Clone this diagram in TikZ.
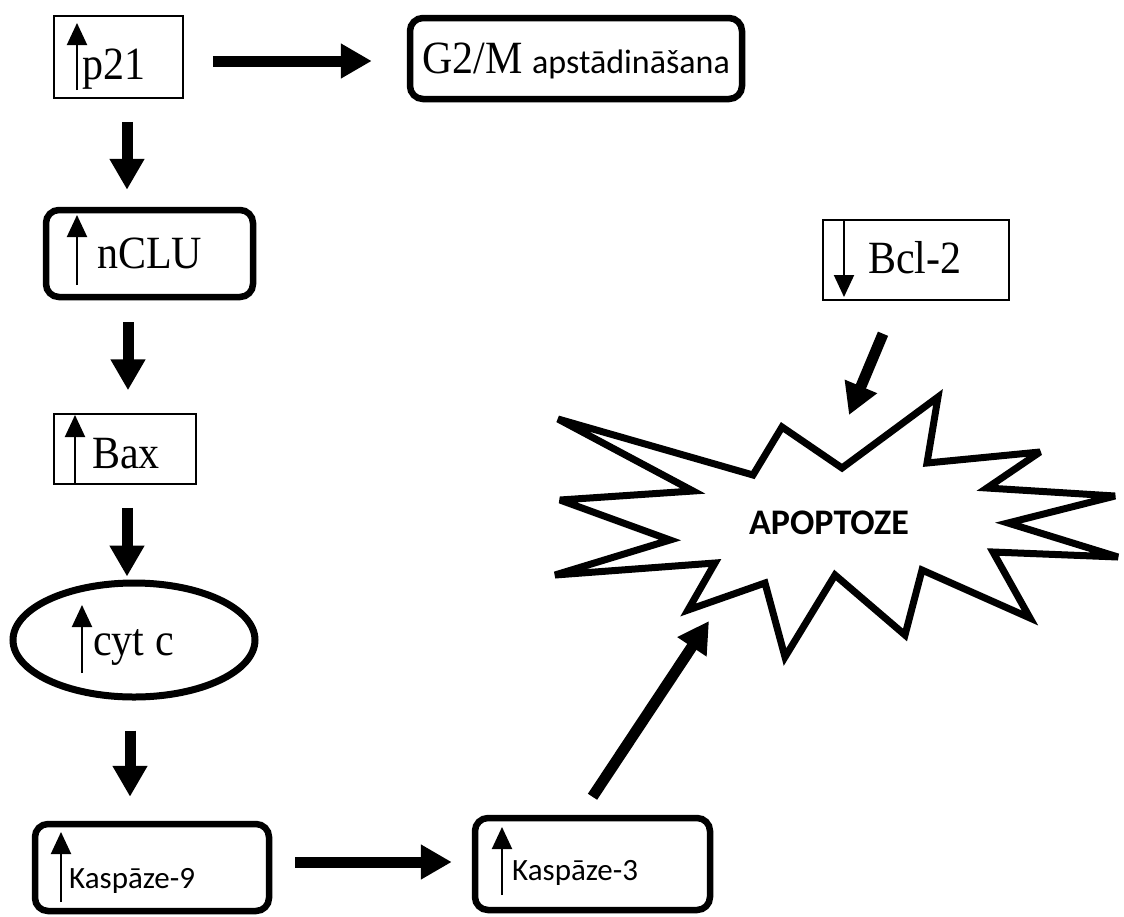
\documentclass[tikz,border=0pt]{standalone}
\usepackage{fontspec}
\usepackage{graphicx}
\setmainfont{Liberation Serif}
\newfontfamily\calib{Carlito}
\usetikzlibrary{arrows.meta,shapes.geometric}
\newcommand\tallt[1]{\scalebox{1}[1.1]{#1}}
\begin{document}
\begin{tikzpicture}[x=1pt,y=-1pt,
  tbox/.style={draw=black,line width=1.5pt,inner sep=0pt,rectangle},
  rbox/.style={draw=black,line width=6.5pt,rounded corners=13pt,inner sep=0pt,rectangle},
  ebox/.style={draw=black,line width=7pt,inner sep=0pt,ellipse},
  big/.style={line width=11pt,-{Triangle[length=31pt,width=33pt]}},
  small/.style={line width=2pt,-{Triangle[length=22pt,width=20pt]}},
  serif/.style={inner sep=0pt,anchor=base west,font=\fontsize{42}{42}\selectfont},
  sans/.style={inner sep=0pt,anchor=base west,font=\calib\fontsize{31}{31}\selectfont}]
\useasboundingbox (0,0) rectangle (1124,916);

% boxes
\node[tbox,minimum width=129pt,minimum height=82pt] (p21) at (118.5,57) {};
\node[rbox,minimum width=332pt,minimum height=81pt] (g2m) at (576,58.5) {};
\node[rbox,minimum width=207pt,minimum height=87pt] (nclu) at (149.5,253.5) {};
\node[tbox,minimum width=142pt,minimum height=70pt] (bax) at (125,449) {};
\node[ebox,minimum width=242pt,minimum height=114pt] (cytc) at (134,640) {};
\node[rbox,minimum width=234pt,minimum height=87pt] (k9) at (152,867.5) {};
\node[rbox,minimum width=235pt,minimum height=92pt] (k3) at (592.5,864) {};
\node[tbox,minimum width=186pt,minimum height=80pt] (bcl2) at (916,260) {};

% starburst
\draw[line width=7pt,line join=miter,miter limit=4]
  (558,419) -- (753,475) -- (782,427) -- (842,468) -- (938,397) -- (927,463)
  -- (1040,452) -- (987,488) -- (1115,496) -- (1008,523) -- (1118,557)
  -- (993,552) -- (1030,618) -- (922,570) -- (905,635) -- (835,575)
  -- (785,657) -- (765,583) -- (688,610) -- (715,563) -- (555,575)
  -- (670,540) -- (560,500) -- (693,491) -- cycle;
\node[inner sep=0pt,anchor=base,font=\calib\bfseries\fontsize{36}{36}\selectfont] (apop) at (829,534) {APOPTOZE};
\coordinate (k3end) at (709,621);
\coordinate (bclend) at (849,415);

% labels
\node[serif] (p21t) at (82,79) {\tallt{p21}};
\node[serif] (nclut) at (97,268) {\tallt{nCLU}};
\node[serif] (baxt) at (92,468) {\tallt{Bax}};
\node[serif] (cytct) at (93,655) {\tallt{cyt c}};
\node[serif] (g2mt) at (422,73) {\tallt{G2/M}};
\node[sans,font=\calib\fontsize{34}{34}\selectfont] (g2ms) at (532,73) {apstādināšana};
\node[serif] (bcl2t) at (868,273) {\tallt{Bcl-2}};
\node[sans] (k9t) at (69,888) {Kaspāze-9};
\node[sans] (k3t) at (512,880) {Kaspāze-3};

% small up/down indicator arrows
\draw[small] (77,90) -- (77,23);
\draw[small] (77,285) -- (77,215);
\draw[small] (75,484) -- (75,415);
\draw[small] (82,673) -- (82,605);
\draw[small] (61,902) -- (61,832);
\draw[small] (502,895) -- (502,827);
\draw[small] (844,220) -- (844,297);

% connectors
\draw[big] ([xshift=29pt,yshift=-4pt]p21.east) -- ([xshift=-35pt,yshift=-2.5pt]g2m.west);
\draw[big] ([xshift=8.5pt,yshift=-23pt]p21.south) -- ([xshift=-22.5pt,yshift=17pt]nclu.north);
\draw[big] ([xshift=-21.5pt,yshift=-22pt]nclu.south) -- ([xshift=3pt,yshift=23pt]bax.north);
\draw[big] ([xshift=2pt,yshift=-23pt]bax.south) -- ([xshift=-7pt,yshift=3pt]cytc.north);
\draw[big] ([xshift=-4pt,yshift=-30pt]cytc.south) -- ([xshift=-22pt,yshift=24pt]k9.north);
\draw[big] ([xshift=23pt,yshift=5.5pt]k9.east) -- ([xshift=-20pt,yshift=2pt]k3.west);
\draw[big] ([yshift=18pt]k3.north) -- (k3end);
\draw[big] ([xshift=-33pt,yshift=-33pt]bcl2.south) -- (bclend);
\end{tikzpicture}
\end{document}
